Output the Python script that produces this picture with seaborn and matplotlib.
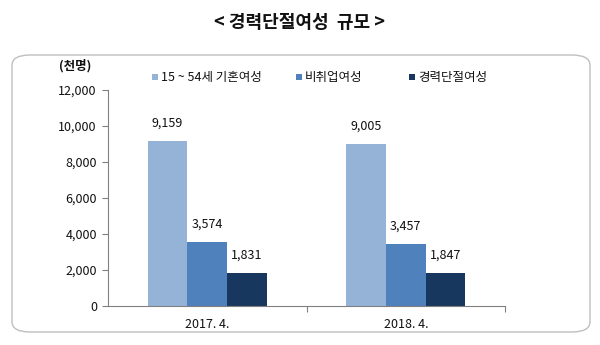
import matplotlib
matplotlib.use("Agg")
import matplotlib.pyplot as plt
from matplotlib.patches import FancyBboxPatch
from matplotlib.ticker import FuncFormatter, FixedLocator
import seaborn as sns
import pandas as pd

periods = ["2017. 4.", "2018. 4."]
series_names = ["15 ~ 54세 기혼여성", "비취업여성", "경력단절여성"]
married = [9159, 9005]
not_employed = [3574, 3457]
career_break = [1831, 1847]
colors = ["#95B3D7", "#4F81BD", "#17375E"]

sns.set_theme(style="white")
plt.rcParams["font.family"] = ["Noto Sans CJK KR", "DejaVu Sans"]

df = pd.DataFrame({
    "period": periods * 3,
    "series": [series_names[0]] * 2 + [series_names[1]] * 2 + [series_names[2]] * 2,
    "value": married + not_employed + career_break,
})

fig = plt.figure(figsize=(6, 3.45), dpi=100)
fig.patch.set_facecolor("white")

# rounded frame around the chart area
frame = FancyBboxPatch((12 / 600, 1 - 332 / 345), 578 / 600, 277 / 345,
                       boxstyle="round,pad=0,rounding_size=0.03",
                       transform=fig.transFigure, facecolor="none",
                       edgecolor="#BFBFBF", linewidth=1.0, zorder=-5)
fig.patches.append(frame)

fig.text(0.5, 1 - 22 / 345, "< 경력단절여성  규모 >", ha="center", va="center",
         fontsize=13, fontweight="bold", color="#111111")

ax = fig.add_axes([108 / 600, 1 - 306 / 345, 397 / 600, 216 / 345])
ax.set_facecolor("none")
sns.barplot(data=df, x="period", y="value", hue="series", palette=colors,
            width=0.6, saturation=1, ax=ax, legend=False,
            edgecolor="none", linewidth=0)

ax.set_ylim(0, 12000)
ax.set_xlim(-0.5, 1.5)
ax.set_yticks(range(0, 12001, 2000))
ax.yaxis.set_major_formatter(FuncFormatter(lambda v, p: f"{int(v):,}"))
ax.set_xlabel("")
ax.set_ylabel("")
for s in ["top", "right"]:
    ax.spines[s].set_visible(False)
for s in ["left", "bottom"]:
    ax.spines[s].set_color("#808080")
    ax.spines[s].set_linewidth(0.8)
ax.tick_params(axis="y", left=True, length=4, width=0.8, color="#808080",
               labelsize=9, labelcolor="#111111", pad=4)
ax.tick_params(axis="x", bottom=False, labelsize=9, labelcolor="#111111", pad=3)
ax.xaxis.set_minor_locator(FixedLocator([0.5, 1.5]))
ax.tick_params(axis="x", which="minor", bottom=True, length=4, width=0.8,
               color="#808080")

for container in ax.containers:
    ax.bar_label(container, labels=[f"{int(b.get_height()):,}" for b in container],
                 padding=8, fontsize=9, color="#111111")

fig.text(75 / 600, 1 - 66 / 345, "(천명)", ha="center", va="center",
         fontsize=9, fontweight="bold", color="#111111")

# legend
leg_x = [152, 296, 409]
for x, name, c in zip(leg_x, series_names, colors):
    fig.patches.append(plt.Rectangle((x / 600, 1 - 80 / 345), 6 / 600, 6 / 345,
                                     transform=fig.transFigure, facecolor=c,
                                     edgecolor="none"))
    fig.text((x + 9) / 600, 1 - 77 / 345, name, ha="left", va="center",
             fontsize=9, color="#111111")

fig.savefig("out.png", dpi=100, facecolor="white")
